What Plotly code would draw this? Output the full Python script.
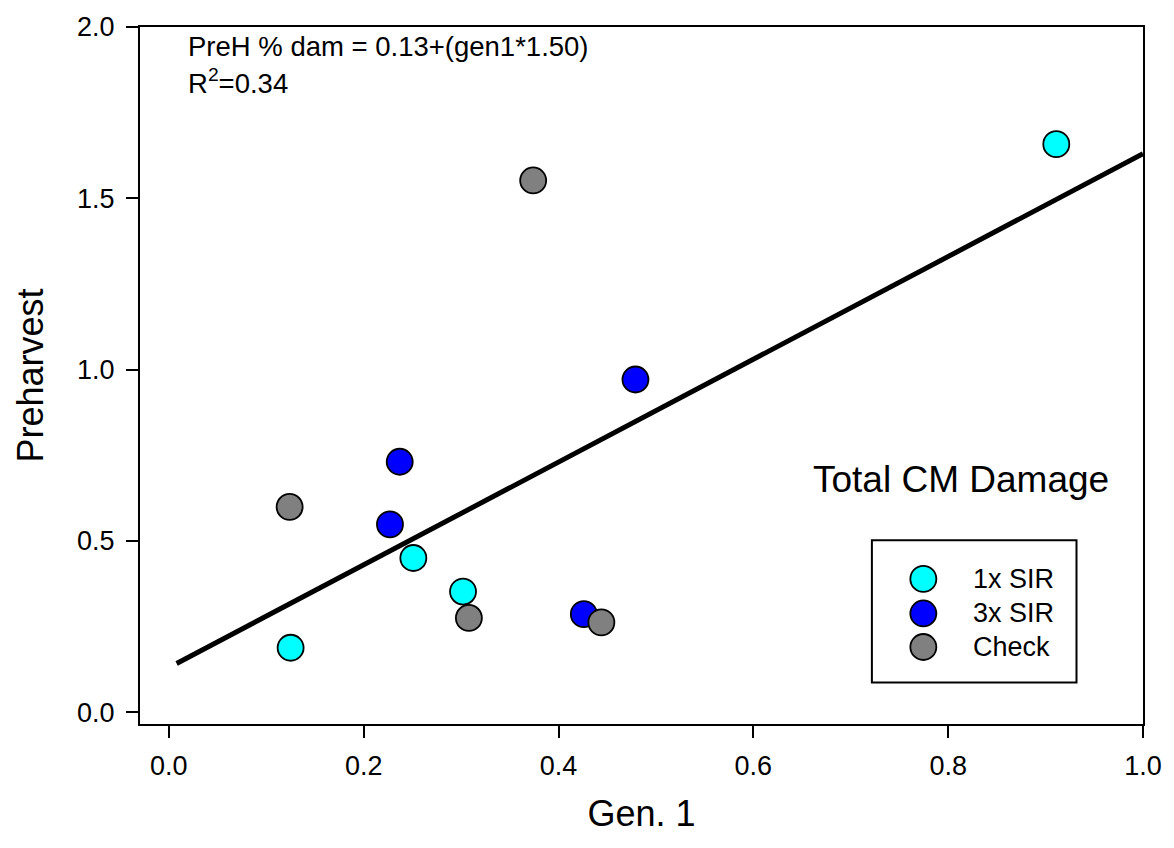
import plotly.graph_objects as go

# ---- data ----
sir1_x = [0.125, 0.251, 0.302, 0.911]
sir1_y = [0.188, 0.450, 0.352, 1.658]
sir3_x = [0.227, 0.237, 0.426, 0.479]
sir3_y = [0.548, 0.731, 0.286, 0.971]
check_x = [0.124, 0.308, 0.374, 0.444]
check_y = [0.599, 0.275, 1.552, 0.262]

fit_intercept = 0.13
fit_slope = 1.50
fit_x = [0.008, 1.0]

series_names = ["1x SIR", "3x SIR", "Check"]
series_colors = ["#00FFFF", "#0000FF", "#808080"]

x_ticks = [0.0, 0.2, 0.4, 0.6, 0.8, 1.0]
y_ticks = [0.0, 0.5, 1.0, 1.5, 2.0]

FONT = "Arial, 'Liberation Sans', sans-serif"

fig = go.Figure()

fit_y = [fit_intercept + fit_slope * v for v in fit_x]
fig.add_trace(go.Scatter(x=fit_x, y=fit_y, mode="lines",
                         line=dict(color="black", width=5), showlegend=False,
                         hoverinfo="skip"))

for xs, ys, name, col in zip([sir1_x, sir3_x, check_x], [sir1_y, sir3_y, check_y],
                             series_names, series_colors):
    fig.add_trace(go.Scatter(x=xs, y=ys, mode="markers", name=name,
                             marker=dict(size=26, color=col,
                                         line=dict(color="black", width=1.8)),
                             showlegend=False))

# ---- manual legend (overlay axes in 0..1 paper-like units) ----
leg_box = dict(x0=0.7297, x1=0.9337, y0=0.0595, y1=0.2635)
leg_marker_x = 0.781
leg_text_x = 0.8287
leg_rows = [0.2082, 0.1586, 0.1105]
for name, col, ry in zip(series_names, series_colors, leg_rows):
    fig.add_trace(go.Scatter(x=[leg_marker_x], y=[ry], mode="markers",
                             xaxis="x2", yaxis="y2", showlegend=False,
                             marker=dict(size=26, color=col,
                                         line=dict(color="black", width=1.8)),
                             hoverinfo="skip"))
    fig.add_annotation(x=leg_text_x, y=ry, xref="paper", yref="paper",
                       text=name, showarrow=False, xanchor="left", yanchor="middle",
                       font=dict(size=27, color="black", family=FONT))

fig.add_shape(type="rect", xref="paper", yref="paper", line=dict(color="black", width=2),
              fillcolor="rgba(0,0,0,0)", **leg_box)

fig.add_annotation(x=0.0455, y=0.972, xref="paper", yref="paper",
                   text="PreH % dam = 0.13+(gen1*1.50)", showarrow=False,
                   xanchor="left", yanchor="middle",
                   font=dict(size=27.5, color="black", family=FONT))
fig.add_annotation(x=0.0455, y=0.922, xref="paper", yref="paper",
                   text="R<sup>2</sup>=0.34", showarrow=False,
                   xanchor="left", yanchor="middle",
                   font=dict(size=27.5, color="black", family=FONT))
fig.add_annotation(x=0.968, y=0.351, xref="paper", yref="paper",
                   text="Total CM Damage", showarrow=False,
                   xanchor="right", yanchor="middle",
                   font=dict(size=37, color="black", family=FONT))

axis_common = dict(showline=True, linecolor="black", linewidth=2, mirror=True,
                   ticks="outside", ticklen=12, tickwidth=1.5, tickcolor="black",
                   showgrid=False, zeroline=False, tickformat=".1f",
                   tickfont=dict(size=27, color="black", family=FONT))

fig.update_layout(
    width=1174, height=848,
    margin=dict(l=140, r=24, t=18, b=124),
    paper_bgcolor="white", plot_bgcolor="white",
    showlegend=False,
    font=dict(family=FONT, color="black"),
    xaxis=dict(range=[-0.0296, 1.0], tickvals=x_ticks,
               title=dict(text="Gen. 1", font=dict(size=36, family=FONT), standoff=20),
               ticklabelstandoff=5, **axis_common),
    yaxis=dict(range=[-0.0346, 2.0], tickvals=y_ticks,
               title=dict(text="Preharvest", font=dict(size=36, family=FONT), standoff=22),
               ticklabelstandoff=6, **axis_common),
    xaxis2=dict(range=[0, 1], overlaying="x", visible=False, fixedrange=True),
    yaxis2=dict(range=[0, 1], overlaying="y", visible=False, fixedrange=True),
)

fig.write_html("out.html")
